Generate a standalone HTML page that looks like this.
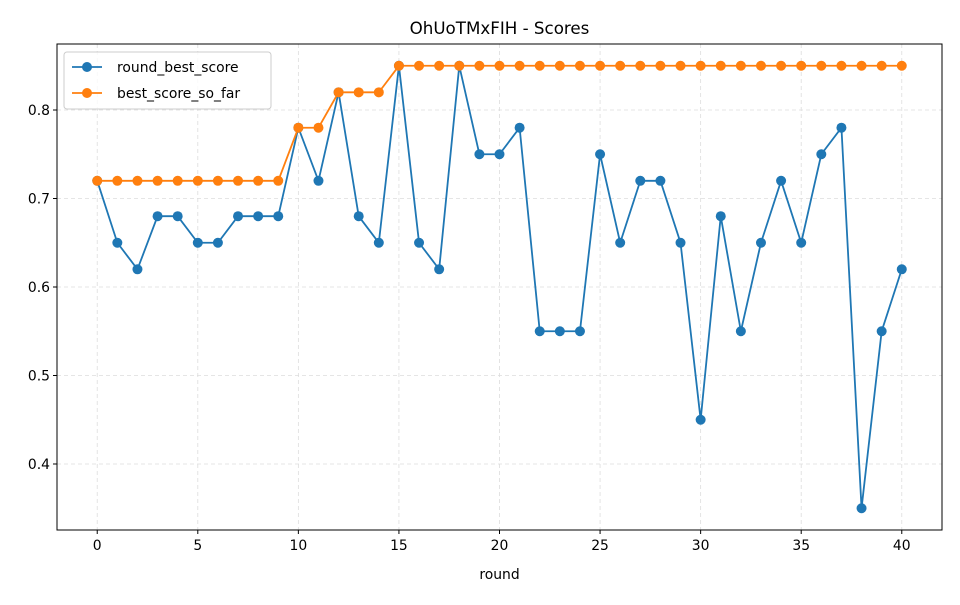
<!DOCTYPE html>
<html><head><meta charset="utf-8"><style>
body{margin:0;background:#fff;font-family:"Liberation Sans","DejaVu Sans",sans-serif}
svg text{font-family:"DejaVu Sans","Liberation Sans",sans-serif}
</style></head><body>
<svg id="c" width="960" height="600" viewBox="0 0 960 600" xmlns="http://www.w3.org/2000/svg"></svg>
<script>
const rounds=[0,1,2,3,4,5,6,7,8,9,10,11,12,13,14,15,16,17,18,19,20,21,22,23,24,25,26,27,28,29,30,31,32,33,34,35,36,37,38,39,40];
const roundBest=[.72,.65,.62,.68,.68,.65,.65,.68,.68,.68,.78,.72,.82,.68,.65,.85,.65,.62,.85,.75,.75,.78,.55,.55,.55,.75,.65,.72,.72,.65,.45,.68,.55,.65,.72,.65,.75,.78,.35,.55,.62];
const bestSoFar=[.72,.72,.72,.72,.72,.72,.72,.72,.72,.72,.78,.78,.82,.82,.82,.85,.85,.85,.85,.85,.85,.85,.85,.85,.85,.85,.85,.85,.85,.85,.85,.85,.85,.85,.85,.85,.85,.85,.85,.85,.85];
const xTicks=[0,5,10,15,20,25,30,35,40];
const yTicks=[0.4,0.5,0.6,0.7,0.8];
const L=57,R=942,T=44,B=530,xmin=-2,xmax=42,ymin=0.3254,ymax=0.8746;
const sx=v=>L+(v-xmin)/(xmax-xmin)*(R-L);
const sy=v=>B-(v-ymin)/(ymax-ymin)*(B-T);
const svg=document.getElementById('c');const NS='http://www.w3.org/2000/svg';
function mk(t,a,p){const e=document.createElementNS(NS,t);for(const k in a)e.setAttribute(k,a[k]);(p||svg).appendChild(e);return e;}
let e;
xTicks.forEach(v=>{const x=sx(v);
e=mk('line',{x1:x,x2:x,y1:T,y2:B,stroke:'#ddd','stroke-dasharray':'4,3','stroke-width':0.8});

e=mk('line',{x1:x,x2:x,y1:B,y2:B+4,stroke:'#000'});

e=mk('text',{x:x,y:B+20,'text-anchor':'middle','font-size':13.9});e.textContent=v;
});
yTicks.forEach(v=>{const y=sy(v);
e=mk('line',{x1:L,x2:R,y1:y,y2:y,stroke:'#ddd','stroke-dasharray':'4,3','stroke-width':0.8});

e=mk('line',{x1:L-4,x2:L,y1:y,y2:y,stroke:'#000'});

e=mk('text',{x:L-7,y:y+5,'text-anchor':'end','font-size':13.9});e.textContent=v.toFixed(1);
});
function series(vals,color,name){
const g=mk('g',{});
e=mk('polyline',{points:rounds.map((r,i)=>sx(r)+','+sy(vals[i])).join(' '),fill:'none',stroke:color,'stroke-width':1.8},g);

rounds.forEach((r,i)=>{e=mk('circle',{cx:sx(r),cy:sy(vals[i]),r:5,fill:color},g);
});}
series(roundBest,'#1f77b4','round-best-score');
series(bestSoFar,'#ff7f0e','best-score-so-far');
e=mk('rect',{x:L,y:T,width:R-L,height:B-T,fill:'none',stroke:'#000','stroke-width':1});

e=mk('text',{x:(L+R)/2,y:34,'text-anchor':'middle','font-size':16.7});e.textContent='OhUoTMxFIH - Scores';

e=mk('text',{x:(L+R)/2,y:579,'text-anchor':'middle','font-size':13.9});e.textContent='round';

const lg=mk('g',{});
e=mk('rect',{x:64,y:52,width:207,height:57,rx:3,fill:'#fff','fill-opacity':0.8,stroke:'#ccc'},lg);

[['round_best_score','#1f77b4',67],['best_score_so_far','#ff7f0e',93]].forEach(([t,c,y])=>{
const g=mk('g',{},lg);
mk('line',{x1:72,x2:102,y1:y,y2:y,stroke:c,'stroke-width':1.8},g);
mk('circle',{cx:87,cy:y,r:5,fill:c},g);
const tx=mk('text',{x:117,y:y+5,'font-size':13.9},g);tx.textContent=t;});
</script>
</body></html>
